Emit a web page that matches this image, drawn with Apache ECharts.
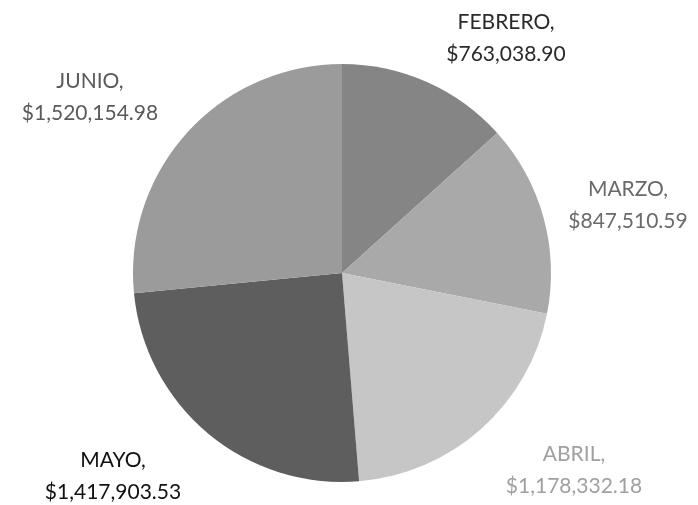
<!DOCTYPE html>
<html>
<head>
<meta charset="utf-8">
<script src="https://cdn.jsdelivr.net/npm/echarts@6/dist/echarts.min.js"></script>
<style>
html,body{margin:0;padding:0;background:#fff;}
#chart{width:698px;height:505px;}
</style>
</head>
<body>
<div id="chart"></div>
<script>
const categories = ['FEBRERO', 'MARZO', 'ABRIL', 'MAYO', 'JUNIO'];
const values = [763038.90, 847510.59, 1178332.18, 1417903.53, 1520154.98];
const sliceColors = ['#858585', '#a9a9a9', '#c6c6c6', '#5e5e5e', '#9b9b9b'];
const labelColors = ['#2a2a2a', '#6a6a6a', '#a0a0a0', '#111111', '#5a5a5a'];
const labelPos = [[506, 38], [628, 205], [574, 470], [113, 476], [90, 97]];

function fmt(v) {
  return '$' + v.toLocaleString('en-US', {minimumFractionDigits: 2, maximumFractionDigits: 2});
}

const chart = echarts.init(document.getElementById('chart'));
chart.setOption({
  animation: false,
  backgroundColor: '#fff',
  series: [{
    type: 'pie',
    center: [342, 273],
    radius: 209,
    startAngle: 90,
    clockwise: true,
    avoidLabelOverlap: false,
    data: categories.map((c, i) => ({
      name: c,
      value: values[i],
      itemStyle: {color: sliceColors[i]},
      label: {color: labelColors[i]}
    })),
    label: {
      show: true,
      position: 'outside',
      formatter: p => p.name + ',\n' + fmt(p.value),
      fontFamily: 'Lato',
      fontSize: 21,
      lineHeight: 32,
      align: 'center',
      overflow: 'none',
      width: 300
    },
    labelLine: {show: false},
    labelLayout: p => ({
      x: labelPos[p.dataIndex][0],
      y: labelPos[p.dataIndex][1],
      align: 'center',
      verticalAlign: 'middle'
    }),
    itemStyle: {borderWidth: 0}
  }]
});
</script>
</body>
</html>
